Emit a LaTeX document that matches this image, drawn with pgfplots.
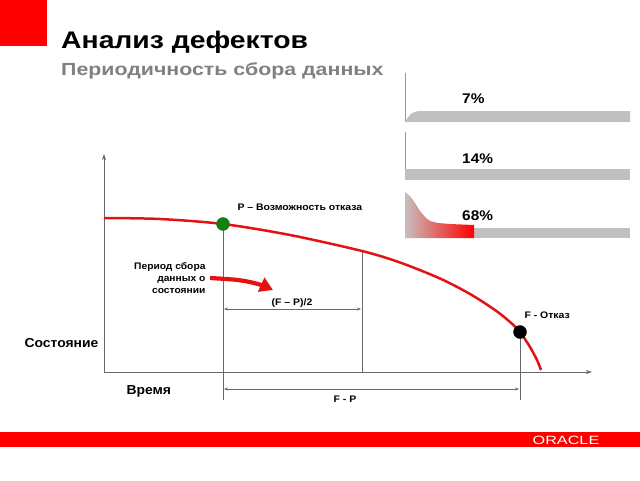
\documentclass[border=0pt]{standalone}
\usepackage{fontspec}
\setmainfont{Liberation Sans}
\usepackage{pgfplots}
\pgfplotsset{compat=1.18}
\usetikzlibrary{arrows.meta}
\definecolor{oraRed}{RGB}{255,0,0}
\definecolor{curveRed}{RGB}{228,18,18}
\definecolor{barGray}{RGB}{192,192,192}
\definecolor{lineGray}{RGB}{105,105,105}
\definecolor{subGray}{RGB}{128,128,128}
\definecolor{dotGreen}{RGB}{16,128,16}
\definecolor{pinkGray}{RGB}{200,190,190}
\newcommand{\hs}[2]{\scalebox{#1}[1]{#2}}
\begin{document}
\begin{tikzpicture}
\begin{axis}[scale only axis, width=640pt, height=480pt,
  xmin=0, xmax=640, ymin=0, ymax=480, y dir=reverse, hide axis, clip=false]
% header square and footer bar
\addplot[fill=oraRed, draw=none] coordinates {(0,0)(47,0)(47,46)(0,46)} -- cycle;
\addplot[fill=oraRed, draw=none] coordinates {(0,432)(640,432)(640,447)(0,447)} -- cycle;
\node[anchor=center, text=white, font=\fontsize{12}{12}\selectfont] at (axis cs:566,440) {\hs{1.35}{ORACLE}};
% titles
\node[anchor=base west, inner sep=0pt, font=\fontsize{24}{28}\selectfont\bfseries] at (axis cs:61,48) {\hs{1.18}{Анализ дефектов}};
\node[anchor=base west, inner sep=0pt, text=subGray, font=\fontsize{17.5}{20}\selectfont\bfseries] at (axis cs:61,75) {\hs{1.22}{Периодичность сбора данных}};
% right panels
\addplot[lineGray!70, line width=0.7pt] coordinates {(405,73)(405,122)};
\addplot[fill=barGray, draw=none] coordinates {(405,122)(408,117)(412,113)(418,111)(630,111)(630,122)} -- cycle;
\node[anchor=base west, inner sep=0pt, font=\fontsize{14}{16}\selectfont\bfseries] at (axis cs:462,103) {\hs{1.1}{7\%}};
\addplot[lineGray!70, line width=0.7pt] coordinates {(405,132)(405,180)};
\addplot[fill=barGray, draw=none] coordinates {(405,169)(630,169)(630,180)(405,180)} -- cycle;
\node[anchor=base west, inner sep=0pt, font=\fontsize{14}{16}\selectfont\bfseries] at (axis cs:462,163) {\hs{1.1}{14\%}};
\addplot[fill=barGray, draw=none] coordinates {(474,228)(630,228)(630,238)(474,238)} -- cycle;
\addplot[draw=none, left color=pinkGray, right color=oraRed] coordinates {(405,238)(405,192)(410,196)(415,203)(420,211)(425,217)(430,221)(438,223)(450,224)(474,225)(474,238)} -- cycle;
\node[anchor=base west, inner sep=0pt, font=\fontsize{14}{16}\selectfont\bfseries] at (axis cs:462,220) {\hs{1.1}{68\%}};
% axes
\addplot[lineGray, line width=0.8pt, -{Stealth[length=6pt,width=4pt]}] coordinates {(104,372)(104,154)};
\addplot[lineGray, line width=0.8pt, -{Stealth[length=6pt,width=4pt]}] coordinates {(104,372)(592,372)};
% verticals
\addplot[lineGray, line width=0.8pt] coordinates {(223,224)(223,400)};
\addplot[lineGray, line width=0.8pt] coordinates {(362,251)(362,372)};
\addplot[lineGray, line width=0.8pt] coordinates {(520,332)(520,400)};
% dimension lines
\addplot[lineGray, line width=0.6pt, {Stealth[length=4pt,width=3pt]}-{Stealth[length=4pt,width=3pt]}] coordinates {(224,309)(361,309)};
\addplot[lineGray, line width=0.6pt, {Stealth[length=4pt,width=3pt]}-{Stealth[length=4pt,width=3pt]}] coordinates {(224,389)(519,389)};
% P-F curve
\addplot[curveRed, line width=2.5pt, smooth] coordinates {(104,218)(160,219)(223,224)(290,235)(362,251)(400,262.5)(440,278.5)(470,294)(495,310)(510,322)(520,332)(530,347)(537,360)(541,370)};
% points
\addplot[only marks, mark=*, mark size=6.5pt, mark options={fill=dotGreen, draw=dotGreen}] coordinates {(223,224)};
\addplot[only marks, mark=*, mark size=6.5pt, mark options={fill=black, draw=black}] coordinates {(520,332)};
% curved arrow
\addplot[curveRed, line width=4.2pt, smooth, -{Triangle[length=13pt,width=15pt]}] coordinates {(210,278)(238,280)(258,284)(273,290)};
% labels
\node[anchor=west, font=\fontsize{9.5}{11}\selectfont\bfseries] at (axis cs:234,207) {\hs{1.1}{P – Возможность отказа}};
\node[anchor=east, font=\fontsize{9.5}{12}\selectfont\bfseries] at (axis cs:209,279) {\hs{1.08}{\begin{tabular}{@{}r@{}}Период сбора\\данных о\\состоянии\end{tabular}}};
\node[anchor=base, font=\fontsize{9.5}{11}\selectfont\bfseries] at (axis cs:292,305) {\hs{1.1}{(F – P)/2}};
\node[anchor=center, font=\fontsize{9.5}{11}\selectfont\bfseries] at (axis cs:345,399) {\hs{1.1}{F - P}};
\node[anchor=west, font=\fontsize{9.5}{11}\selectfont\bfseries] at (axis cs:521,315) {\hs{1.1}{F - Отказ}};
\node[anchor=west, font=\fontsize{13}{15}\selectfont\bfseries] at (axis cs:21,343) {\hs{1.07}{Состояние}};
\node[anchor=west, font=\fontsize{13}{15}\selectfont\bfseries] at (axis cs:123,391) {\hs{1.07}{Время}};
\end{axis}
\pgfresetboundingbox
\path[use as bounding box] (current axis.south west) rectangle (current axis.north east);
\end{tikzpicture}
\end{document}
